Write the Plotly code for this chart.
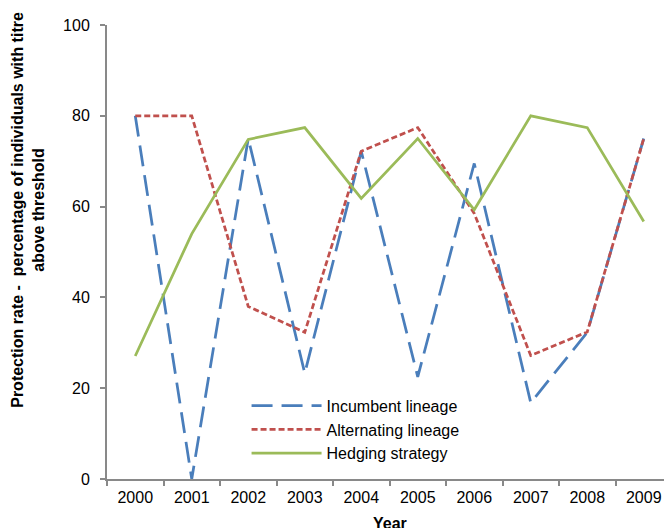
import plotly.graph_objects as go

years = ["2000", "2001", "2002", "2003", "2004", "2005", "2006", "2007", "2008", "2009"]
incumbent = [80, 0, 75, 23.3, 72.2, 22.5, 69.5, 16.8, 32.3, 75]
alternating = [80, 80, 38, 32.3, 72.2, 77.4, 58.5, 27.2, 32.4, 75]
hedging = [27.1, 54, 74.8, 77.4, 61.8, 75, 59.3, 80, 77.4, 56.7]

y_title = "<b>Protection rate -  percentage of individuals with titre<br>above threshold</b>"
x_title = "<b>Year</b>"

fig = go.Figure()
fig.add_trace(go.Scatter(x=years, y=incumbent, mode="lines", name="Incumbent lineage",
                         line=dict(color="#4A7EBB", width=2.75, dash="21px,9px")))
fig.add_trace(go.Scatter(x=years, y=alternating, mode="lines", name="Alternating lineage",
                         line=dict(color="#C0504D", width=2.75, dash="6px,3px")))
fig.add_trace(go.Scatter(x=years, y=hedging, mode="lines", name="Hedging strategy",
                         line=dict(color="#9BBB59", width=2.75)))

font_family = "Liberation Sans, Arial, sans-serif"
fig.update_layout(
    width=672, height=528,
    margin=dict(l=99, r=8, t=17, b=57),
    paper_bgcolor="white", plot_bgcolor="white",
    font=dict(family=font_family, size=16, color="black"),
    showlegend=True,
    legend=dict(x=0.247, y=0.199, xanchor="left", yanchor="top",
                bgcolor="rgba(0,0,0,0)", font=dict(size=16),
                tracegroupgap=0, itemwidth=70),
    xaxis=dict(type="category", tickson="boundaries", ticks="outside", ticklen=5,
               tickcolor="#898989", tickwidth=1.5,
               showline=True, linecolor="#898989", linewidth=2,
               showgrid=False, zeroline=False, range=[-0.5, 9.5],
               tickfont=dict(size=16), ticklabelstandoff=3, automargin=False),
    yaxis=dict(range=[0, 100], dtick=20, ticks="outside", ticklen=5,
               tickcolor="#898989", tickwidth=1.5,
               showline=True, linecolor="#898989", linewidth=2,
               showgrid=False, zeroline=False, tickfont=dict(size=16),
               ticklabelstandoff=7, automargin=False),
    annotations=[
        dict(text=y_title, textangle=-90, xref="paper", yref="paper",
             x=0, y=0.593, xanchor="center", yanchor="middle",
             xshift=-79, showarrow=False, font=dict(size=16)),
        dict(text=x_title, xref="paper", yref="paper", x=0.5, y=0,
             xanchor="center", yanchor="top", yshift=-34, showarrow=False,
             font=dict(size=16)),
    ],
)

fig.write_html("out.html")
